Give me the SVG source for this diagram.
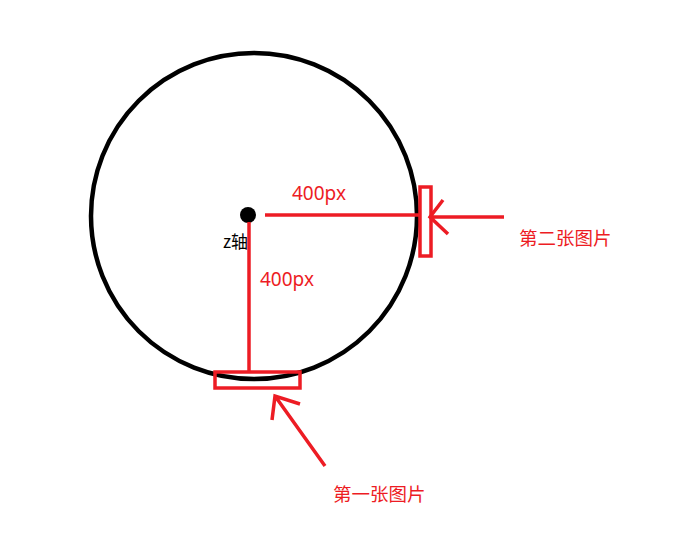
<svg xmlns="http://www.w3.org/2000/svg" width="688" height="555" viewBox="0 0 688 555">
<style>
.r{stroke:#ed1c24;fill:none;stroke-width:3.5}
.t{font-family:"Microsoft YaHei","Noto Sans CJK SC",sans-serif;font-size:18.5px;fill:#ed1c24}
.n{font-family:"Microsoft YaHei","Noto Sans",sans-serif;font-size:19px;fill:#ed1c24}
</style>
<rect width="688" height="555" fill="#fff"/>
<g id="circle"><circle cx="254" cy="216" r="163" fill="none" stroke="#000" stroke-width="4.5"/></g>
<g id="center"><circle cx="248" cy="215" r="8" fill="#000"/><text x="223" y="248" font-family="Microsoft YaHei,'Noto Sans CJK SC',sans-serif" font-size="17" fill="#000">z轴</text></g>
<g id="connectors">
<line class="r" x1="249" y1="222" x2="249" y2="373"/>
<line class="r" x1="265" y1="215" x2="421" y2="215"/>
<path class="r" d="M504 217H430M443 200L430 217L448 234"/>
<path class="r" d="M325 466L275 396M272 420L275 396L300 404"/>
</g>
<g id="img2"><rect class="r" x="420" y="187" width="11" height="69"/></g>
<g id="img1"><rect class="r" x="215" y="372" width="85" height="16"/></g>
<g id="labels">
<text class="n" x="292" y="200">400px</text>
<text class="n" x="260" y="286">400px</text>
<text class="t" x="519" y="245">第二张图片</text>
<text class="t" x="333" y="501">第一张图片</text>
</g>
</svg>
